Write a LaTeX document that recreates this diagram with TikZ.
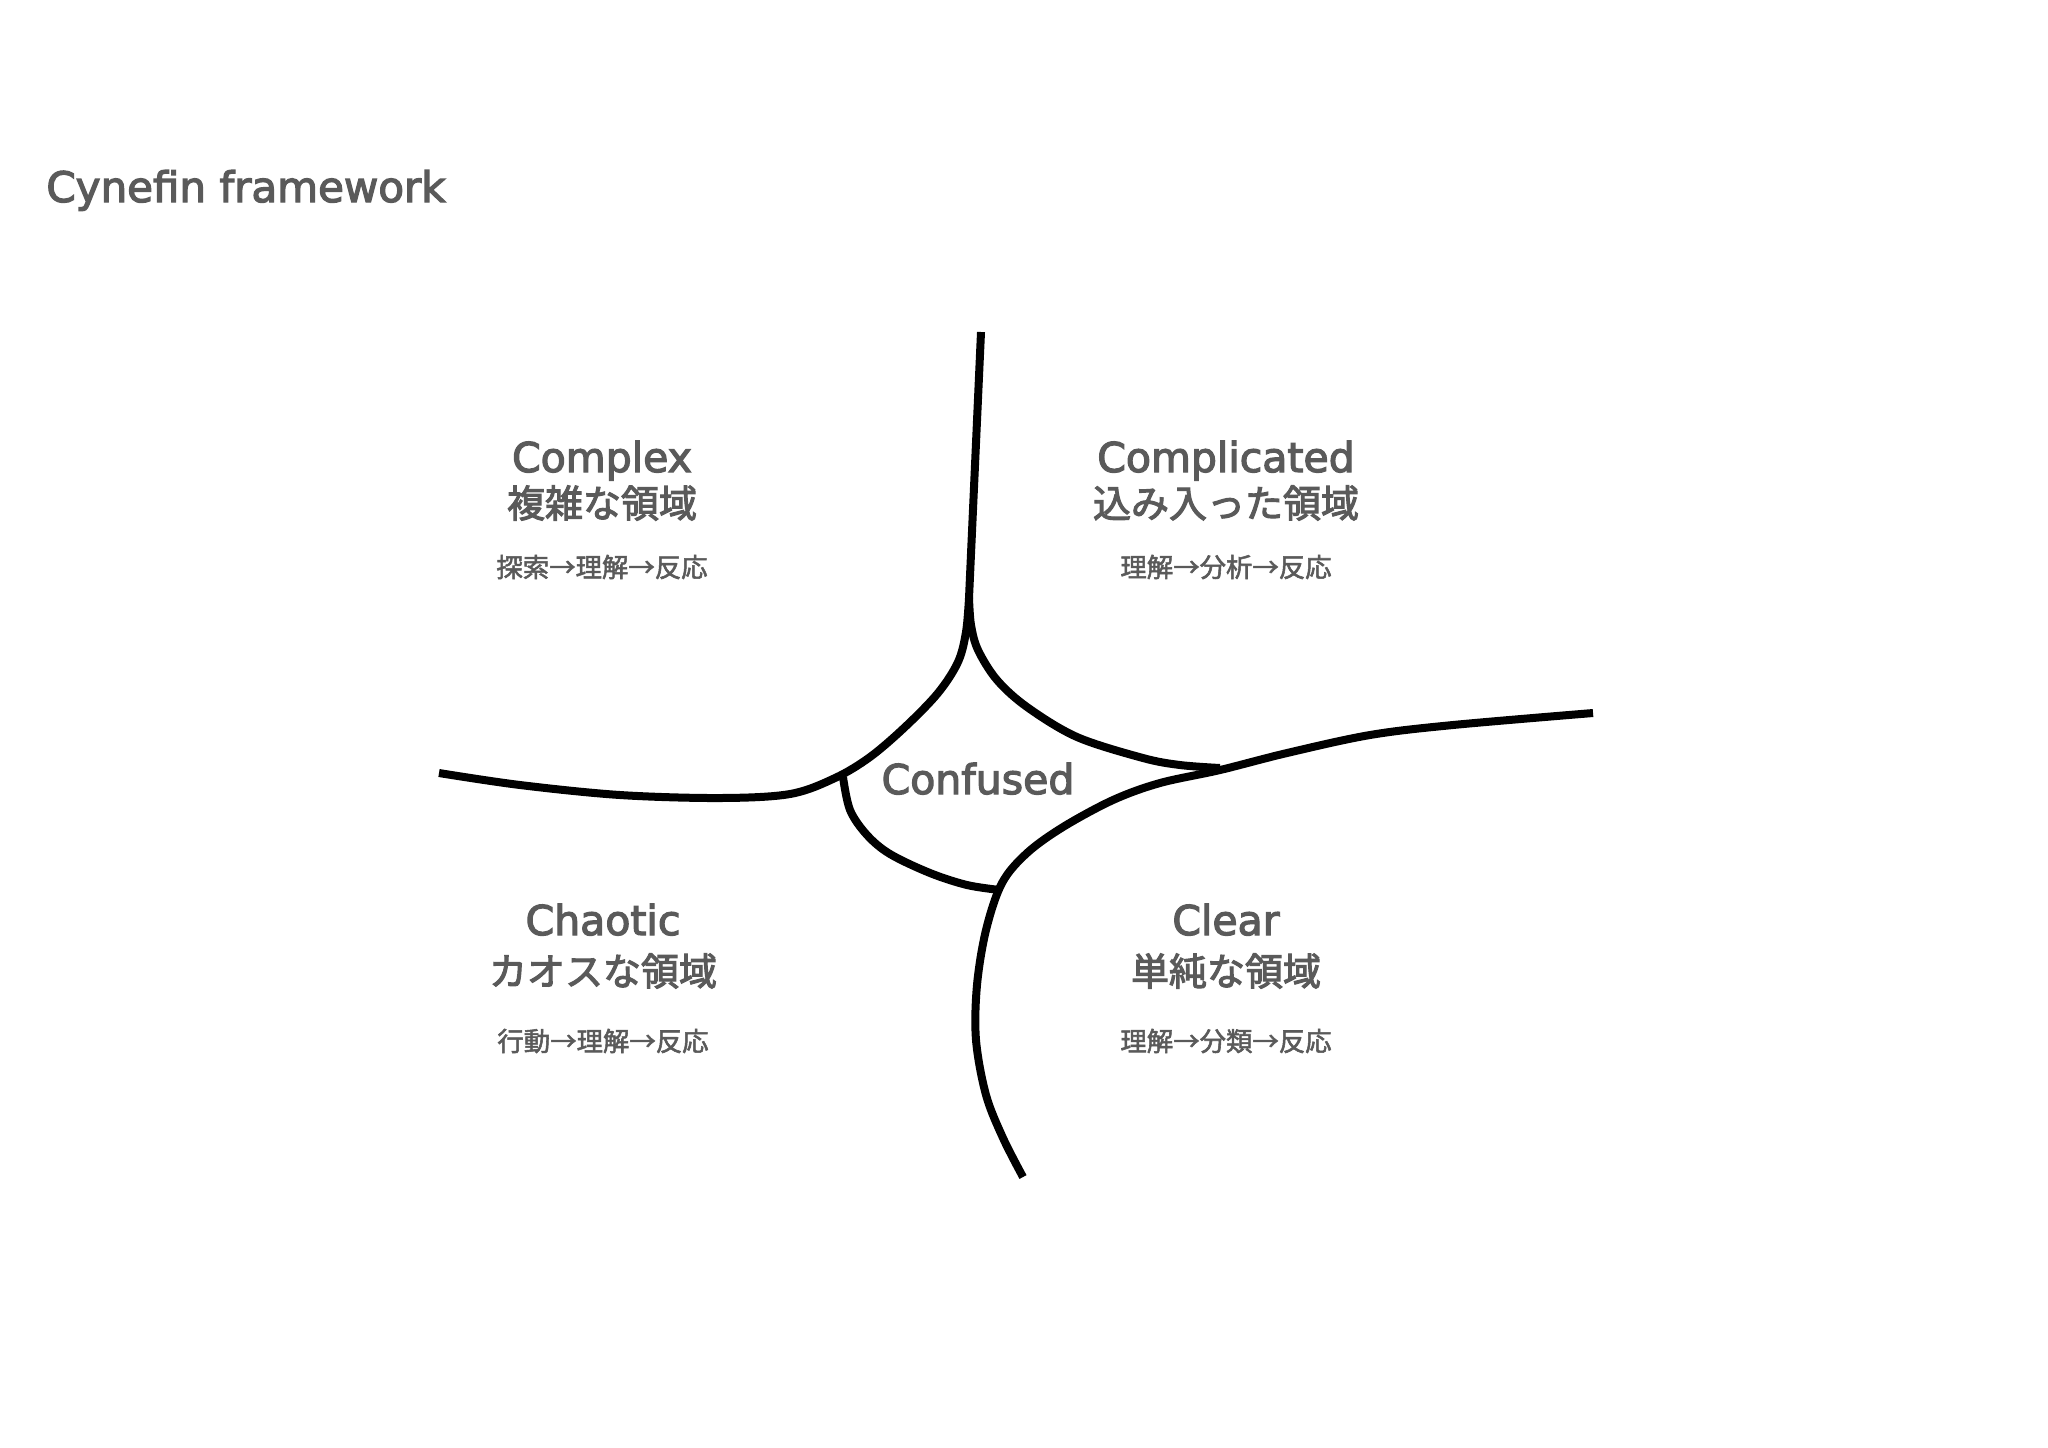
\documentclass[tikz,border=0pt]{standalone}
\usepackage{fontspec}
\setmainfont[FakeBold=3]{DejaVu Sans}
\newfontfamily\jph[FakeBold=2.8]{Noto Sans CJK JP}
\newfontfamily\jps[FakeBold=2]{Noto Sans CJK JP}
\definecolor{txtgray}{HTML}{5A5A5A}
\begin{document}
\begin{tikzpicture}[x=0.5pt,y=-0.5pt,
  border/.style={line width=4pt, black, line cap=butt, line join=round},
  titletxt/.style={font=\fontsize{21}{25}\selectfont, text=txtgray, inner sep=0pt, anchor=base west},
  lat/.style={font=\fontsize{20.5}{24}\selectfont, text=txtgray, inner sep=0pt, anchor=base},
  jphead/.style={font=\jph\fontsize{19}{22}\selectfont, text=txtgray, inner sep=0pt},
  jpsub/.style={font=\jps\fontsize{13.2}{16}\selectfont, text=txtgray, inner sep=0pt}]
\fill[white] (0,0) rectangle (2048,1447);
\useasboundingbox (0,0) rectangle (2048,1447);

% title
\node[titletxt] (title) at (46,202) {Cynefin framework};

% borders
\draw[border] (981,332) -- (969,598)
  plot[smooth, tension=0.55] coordinates {(969,598) (966,632) (958,662) (938,693) (905,727) (870,757) (835,778) (790,794) (720,798) (620,795) (520,785) (439,773)};
\draw[border] plot[smooth, tension=0.55] coordinates {(969,598) (971,625) (978,650) (997,680) (1027,707) (1077,737) (1143,758) (1180,765) (1220,768)};
\draw[border] plot[smooth, tension=0.55] coordinates {(1593,713) (1453,725) (1370,735) (1287,753) (1220,770) (1160,783) (1113,800) (1063,827) (1027,853) (1002,883) (986,930) (977,985) (976,1040) (986,1095) (1003,1138) (1023,1177)};
\draw[border] plot[smooth, tension=0.55] coordinates {(843,777) (850,810) (867,835) (890,854) (930,873) (967,885) (1000,890)};

% Complex
\node[lat] (cx) at (602,472) {Complex};
\node[jphead] (cxj) at (602,503) {複雑な領域};
\node[jpsub] (cxs) at (602,567) {探索→理解→反応};

% Complicated
\node[lat] (cd) at (1226,472) {Complicated};
\node[jphead] (cdj) at (1226,503) {込み入った領域};
\node[jpsub] (cds) at (1226,567) {理解→分析→反応};

% Chaotic
\node[lat] (ch) at (603,935) {Chaotic};
\node[jphead] (chj) at (603,971) {カオスな領域};
\node[jpsub] (chs) at (603,1041) {行動→理解→反応};

% Clear
\node[lat] (cl) at (1226,935) {Clear};
\node[jphead] (clj) at (1226,971) {単純な領域};
\node[jpsub] (cls) at (1226,1041) {理解→分類→反応};

% Confused
\node[lat] (cf) at (978,794) {Confused};
\end{tikzpicture}
\end{document}
